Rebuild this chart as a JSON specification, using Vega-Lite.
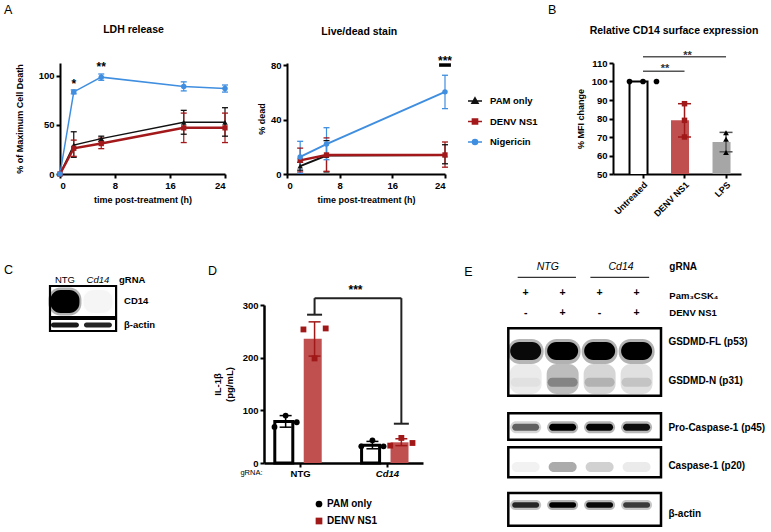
{
"$schema":"https://vega.github.io/schema/vega-lite/v6.json",
"background":"white",
"padding":{"left":3,"top":3,"right":0,"bottom":0},
"config":{
 "font":"Liberation Sans",
 "view":{"stroke":null},
 "axis":{"grid":false,"domainColor":"black","domainWidth":2,"tickColor":"black","tickWidth":2,"tickSize":4,"labelColor":"black","labelFontSize":9.5,"labelFontWeight":"bold","titleColor":"black","titleFontSize":9,"titleFontWeight":"bold","labelPadding":2},
 "title":{"fontSize":10.5,"fontWeight":"bold","color":"black","anchor":"middle"},
 "legend":{"labelColor":"black","labelFontWeight":"bold","labelFontSize":9.5,"padding":0},
 "text":{"color":"black"}
},
"datasets":{
 "ldh":[
  {"series":"PAM only","t":0,"mean":0},
  {"series":"PAM only","t":2,"mean":29.4,"lo":17,"hi":43},
  {"series":"PAM only","t":6,"mean":36,"lo":33.2,"hi":38.5},
  {"series":"PAM only","t":18,"mean":52.6,"lo":40.5,"hi":64.8},
  {"series":"PAM only","t":24,"mean":52.6,"lo":38.5,"hi":67.5},
  {"series":"DENV NS1","t":0,"mean":0},
  {"series":"DENV NS1","t":2,"mean":26.2,"lo":18,"hi":34.5},
  {"series":"DENV NS1","t":6,"mean":31,"lo":25.8,"hi":36.5},
  {"series":"DENV NS1","t":18,"mean":47,"lo":32,"hi":62},
  {"series":"DENV NS1","t":24,"mean":47,"lo":32,"hi":62},
  {"series":"Nigericin","t":0,"mean":0},
  {"series":"Nigericin","t":2,"mean":83.6,"lo":81.6,"hi":85.6},
  {"series":"Nigericin","t":6,"mean":98.6,"lo":95.4,"hi":101.8},
  {"series":"Nigericin","t":18,"mean":89.2,"lo":84.6,"hi":93.8},
  {"series":"Nigericin","t":24,"mean":87,"lo":83.4,"hi":90.6}
 ],
 "livedead":[
  {"series":"PAM only","t":2,"mean":5.8,"lo":2.8,"hi":8.6},
  {"series":"PAM only","t":6,"mean":13.5,"lo":1.5,"hi":24.5},
  {"series":"PAM only","t":24,"mean":14,"lo":7.5,"hi":21.5},
  {"series":"DENV NS1","t":2,"mean":10,"lo":1.5,"hi":19},
  {"series":"DENV NS1","t":6,"mean":14,"lo":2,"hi":26.5},
  {"series":"DENV NS1","t":24,"mean":14,"lo":5,"hi":23.5},
  {"series":"Nigericin","t":2,"mean":12.5,"lo":0.5,"hi":24},
  {"series":"Nigericin","t":6,"mean":22,"lo":10.5,"hi":34},
  {"series":"Nigericin","t":24,"mean":60.3,"lo":48,"hi":72.5}
 ],
 "cd14bars":[
  {"condition":"Untreated","mean":100},
  {"condition":"DENV NS1","mean":79,"lo":70,"hi":88},
  {"condition":"LPS","mean":67.3,"lo":62,"hi":72.5}
 ],
 "cd14pts":[
  {"condition":"Untreated","rep":1,"value":100},
  {"condition":"Untreated","rep":2,"value":100},
  {"condition":"Untreated","rep":3,"value":100},
  {"condition":"DENV NS1","rep":1,"value":88},
  {"condition":"DENV NS1","rep":2,"value":79},
  {"condition":"DENV NS1","rep":3,"value":70},
  {"condition":"LPS","rep":1,"value":72.3},
  {"condition":"LPS","rep":2,"value":68.8},
  {"condition":"LPS","rep":3,"value":61.6}
 ],
 "il1bbars":[
  {"bar":"NTG|PAM","gRNA":"NTG","treatment":"PAM only","mean":79,"lo":68,"hi":90},
  {"bar":"NTG|DENV","gRNA":"NTG","treatment":"DENV NS1","mean":236,"lo":203,"hi":268},
  {"bar":"Cd14|PAM","gRNA":"Cd14","treatment":"PAM only","mean":33.6,"lo":27,"hi":41},
  {"bar":"Cd14|DENV","gRNA":"Cd14","treatment":"DENV NS1","mean":39.3,"lo":33,"hi":46}
 ],
 "il1bpts":[
  {"bar":"NTG|PAM","treatment":"PAM only","rep":1,"value":68.5},
  {"bar":"NTG|PAM","treatment":"PAM only","rep":2,"value":90},
  {"bar":"NTG|PAM","treatment":"PAM only","rep":3,"value":77.4},
  {"bar":"NTG|DENV","treatment":"DENV NS1","rep":1,"value":253.6},
  {"bar":"NTG|DENV","treatment":"DENV NS1","rep":2,"value":198.5},
  {"bar":"NTG|DENV","treatment":"DENV NS1","rep":3,"value":255.5},
  {"bar":"Cd14|PAM","treatment":"PAM only","rep":1,"value":31.7},
  {"bar":"Cd14|PAM","treatment":"PAM only","rep":2,"value":43},
  {"bar":"Cd14|PAM","treatment":"PAM only","rep":3,"value":31.7},
  {"bar":"Cd14|DENV","treatment":"DENV NS1","rep":1,"value":33},
  {"bar":"Cd14|DENV","treatment":"DENV NS1","rep":2,"value":47.6},
  {"bar":"Cd14|DENV","treatment":"DENV NS1","rep":3,"value":38}
 ],
 "blotC":[
  {"band":"CD14","lane":1,"intensity":1},
  {"band":"CD14","lane":2,"intensity":0.03},
  {"band":"beta-actin","lane":1,"intensity":0.9},
  {"band":"beta-actin","lane":2,"intensity":0.85}
 ],
 "blotE":[
  {"band":"GSDMD-FL","lane":1,"intensity":0.95},
  {"band":"GSDMD-FL","lane":2,"intensity":1},
  {"band":"GSDMD-FL","lane":3,"intensity":1},
  {"band":"GSDMD-FL","lane":4,"intensity":1},
  {"band":"GSDMD smear","lane":1,"intensity":0.08},
  {"band":"GSDMD smear","lane":2,"intensity":0.26},
  {"band":"GSDMD smear","lane":3,"intensity":0.16},
  {"band":"GSDMD smear","lane":4,"intensity":0.12},
  {"band":"GSDMD-N","lane":1,"intensity":0.04},
  {"band":"GSDMD-N","lane":2,"intensity":0.3},
  {"band":"GSDMD-N","lane":3,"intensity":0.17},
  {"band":"GSDMD-N","lane":4,"intensity":0.12},
  {"band":"Pro-Caspase-1","lane":1,"intensity":0.55},
  {"band":"Pro-Caspase-1","lane":2,"intensity":1},
  {"band":"Pro-Caspase-1","lane":3,"intensity":0.97},
  {"band":"Pro-Caspase-1","lane":4,"intensity":0.93},
  {"band":"Caspase-1","lane":1,"intensity":0.05},
  {"band":"Caspase-1","lane":2,"intensity":0.33},
  {"band":"Caspase-1","lane":3,"intensity":0.18},
  {"band":"Caspase-1","lane":4,"intensity":0.08},
  {"band":"beta-actin","lane":1,"intensity":0.8},
  {"band":"beta-actin","lane":2,"intensity":1},
  {"band":"beta-actin","lane":3,"intensity":0.95},
  {"band":"beta-actin","lane":4,"intensity":0.7}
 ],
 "lanesE":[
  {"lane":1,"pam":"+","ns1":"-"},
  {"lane":2,"pam":"+","ns1":"+"},
  {"lane":3,"pam":"+","ns1":"-"},
  {"lane":4,"pam":"+","ns1":"+"}
 ]
},
"spacing":43,
"resolve":{"scale":{"color":"independent","fill":"independent","stroke":"independent","shape":"independent","opacity":"independent","fillOpacity":"independent","xOffset":"independent","size":"independent","strokeWidth":"independent"}},
"vconcat":[
{
"hconcat":[
 {
  "width":165,"height":111,
  "data":{"name":"ldh"},
  "layer":[
   {"mark":{"type":"rule","strokeWidth":1.2},"encoding":{"x":{"field":"t","type":"quantitative","scale":{"domain":[0,24],"nice":false},"axis":{"values":[0,4,8,12,16,20,24],"title":"time post-treatment (h)","titlePadding":6}},"y":{"field":"lo","type":"quantitative","title":"% of Maximum Cell Death","scale":{"domain":[0,113],"nice":false},"axis":{"values":[0,50,100],"titlePadding":14}},"y2":{"field":"hi"},"stroke":{"field":"series","type":"nominal","scale":{"domain":["PAM only","DENV NS1","Nigericin"],"range":["#111111","#a3191b","#3f8ee0"]},"legend":null}}},
   {"mark":{"type":"tick","orient":"horizontal","size":6,"thickness":1.3,"opacity":1},"encoding":{"x":{"field":"t","type":"quantitative","title":"time post-treatment (h)"},"y":{"field":"lo","type":"quantitative","title":"% of Maximum Cell Death"},"fill":{"field":"series","type":"nominal","scale":{"domain":["PAM only","DENV NS1","Nigericin"],"range":["#111111","#a3191b","#3f8ee0"]},"legend":null}}},
   {"mark":{"type":"tick","orient":"horizontal","size":6,"thickness":1.3,"opacity":1},"encoding":{"x":{"field":"t","type":"quantitative","title":"time post-treatment (h)"},"y":{"field":"hi","type":"quantitative","title":"% of Maximum Cell Death"},"fill":{"field":"series","type":"nominal","scale":{"domain":["PAM only","DENV NS1","Nigericin"],"range":["#111111","#a3191b","#3f8ee0"]},"legend":null}}},
   {"transform":[{"filter":"datum.series!='DENV NS1'"}],"mark":{"type":"line","strokeWidth":1.5},"encoding":{"x":{"field":"t","type":"quantitative","title":"time post-treatment (h)"},"y":{"field":"mean","type":"quantitative","title":"% of Maximum Cell Death"},"stroke":{"field":"series","type":"nominal","scale":{"domain":["PAM only","DENV NS1","Nigericin"],"range":["#111111","#a3191b","#3f8ee0"]},"legend":null}}},
   {"transform":[{"filter":"datum.series=='DENV NS1'"}],"mark":{"type":"line","strokeWidth":2.5},"encoding":{"x":{"field":"t","type":"quantitative","title":"time post-treatment (h)"},"y":{"field":"mean","type":"quantitative","title":"% of Maximum Cell Death"},"stroke":{"field":"series","type":"nominal","scale":{"domain":["PAM only","DENV NS1","Nigericin"],"range":["#111111","#a3191b","#3f8ee0"]},"legend":null}}},
   {"transform":[{"filter":"datum.series=='PAM only'"}],"mark":{"type":"point","shape":"triangle-up","filled":true,"size":30,"opacity":1},"encoding":{"x":{"field":"t","type":"quantitative","title":"time post-treatment (h)"},"y":{"field":"mean","type":"quantitative","title":"% of Maximum Cell Death"},"fill":{"field":"series","type":"nominal","scale":{"domain":["PAM only","DENV NS1","Nigericin"],"range":["#111111","#a3191b","#3f8ee0"]},"legend":null}}},
   {"transform":[{"filter":"datum.series=='DENV NS1'"}],"mark":{"type":"point","shape":"square","filled":true,"size":28,"opacity":1},"encoding":{"x":{"field":"t","type":"quantitative","title":"time post-treatment (h)"},"y":{"field":"mean","type":"quantitative","title":"% of Maximum Cell Death"},"fill":{"field":"series","type":"nominal","scale":{"domain":["PAM only","DENV NS1","Nigericin"],"range":["#111111","#a3191b","#3f8ee0"]},"legend":null}}},
   {"transform":[{"filter":"datum.series=='Nigericin'"}],"mark":{"type":"point","shape":"circle","filled":true,"size":30,"opacity":1},"encoding":{"x":{"field":"t","type":"quantitative","title":"time post-treatment (h)"},"y":{"field":"mean","type":"quantitative","title":"% of Maximum Cell Death"},"fill":{"field":"series","type":"nominal","scale":{"domain":["PAM only","DENV NS1","Nigericin"],"range":["#111111","#a3191b","#3f8ee0"]},"legend":null}}},
   {"data":{"values":[{}]},"mark":{"type":"text","fontSize":12,"fontWeight":"bold","baseline":"alphabetic"},"encoding":{"x":{"datum":2},"y":{"datum":87.5},"text":{"value":"*"}}},
   {"data":{"values":[{}]},"mark":{"type":"text","fontSize":12,"fontWeight":"bold","baseline":"alphabetic"},"encoding":{"x":{"datum":6},"y":{"datum":104.8},"text":{"value":"**"}}},
   {"data":{"values":[{}]},"mark":{"type":"text","fontSize":10.5,"fontWeight":"bold","baseline":"middle"},"encoding":{"x":{"datum":10.69},"y":{"datum":146.6},"text":{"value":"LDH release"}}},
   {"data":{"values":[{}]},"mark":{"type":"text","fontSize":12.5,"align":"left","baseline":"top"},"encoding":{"x":{"datum":-8.15},"y":{"datum":173.1},"text":{"value":"A"}}}
  ]
 },
 {
  "width":158,"height":111,
  "data":{"name":"livedead"},
  "layer":[
   {"mark":{"type":"rule","strokeWidth":1.2},"encoding":{"x":{"field":"t","type":"quantitative","scale":{"domain":[0,24],"nice":false},"axis":{"values":[0,4,8,12,16,20,24],"title":"time post-treatment (h)","titlePadding":6}},"y":{"field":"lo","type":"quantitative","title":"% dead","scale":{"domain":[0,81.5],"nice":false},"axis":{"values":[0,20,40,60,80],"titlePadding":4}},"y2":{"field":"hi"},"stroke":{"field":"series","type":"nominal","scale":{"domain":["PAM only","DENV NS1","Nigericin"],"range":["#111111","#a3191b","#3f8ee0"]}}}},
   {"mark":{"type":"tick","orient":"horizontal","size":6,"thickness":1.3,"opacity":1},"encoding":{"x":{"field":"t","type":"quantitative","title":"time post-treatment (h)"},"y":{"field":"lo","type":"quantitative","title":"% dead"},"fill":{"field":"series","type":"nominal","scale":{"domain":["PAM only","DENV NS1","Nigericin"],"range":["#111111","#a3191b","#3f8ee0"]}}}},
   {"mark":{"type":"tick","orient":"horizontal","size":6,"thickness":1.3,"opacity":1},"encoding":{"x":{"field":"t","type":"quantitative","title":"time post-treatment (h)"},"y":{"field":"hi","type":"quantitative","title":"% dead"},"fill":{"field":"series","type":"nominal","scale":{"domain":["PAM only","DENV NS1","Nigericin"],"range":["#111111","#a3191b","#3f8ee0"]}}}},
   {"transform":[{"filter":"datum.series!='DENV NS1'"}],"mark":{"type":"line","strokeWidth":2},"encoding":{"x":{"field":"t","type":"quantitative","title":"time post-treatment (h)"},"y":{"field":"mean","type":"quantitative","title":"% dead"},"stroke":{"field":"series","type":"nominal","scale":{"domain":["PAM only","DENV NS1","Nigericin"],"range":["#111111","#a3191b","#3f8ee0"]}}}},
   {"transform":[{"filter":"datum.series=='DENV NS1'"}],"mark":{"type":"line","strokeWidth":2.5},"encoding":{"x":{"field":"t","type":"quantitative","title":"time post-treatment (h)"},"y":{"field":"mean","type":"quantitative","title":"% dead"},"stroke":{"field":"series","type":"nominal","scale":{"domain":["PAM only","DENV NS1","Nigericin"],"range":["#111111","#a3191b","#3f8ee0"]}}}},
   {"transform":[{"filter":"datum.series=='PAM only'"}],"mark":{"type":"point","shape":"triangle-up","filled":true,"size":30,"opacity":1},"encoding":{"x":{"field":"t","type":"quantitative","title":"time post-treatment (h)"},"y":{"field":"mean","type":"quantitative","title":"% dead"},"fill":{"field":"series","type":"nominal","scale":{"domain":["PAM only","DENV NS1","Nigericin"],"range":["#111111","#a3191b","#3f8ee0"]}}}},
   {"transform":[{"filter":"datum.series=='DENV NS1'"}],"mark":{"type":"point","shape":"square","filled":true,"size":28,"opacity":1},"encoding":{"x":{"field":"t","type":"quantitative","title":"time post-treatment (h)"},"y":{"field":"mean","type":"quantitative","title":"% dead"},"fill":{"field":"series","type":"nominal","scale":{"domain":["PAM only","DENV NS1","Nigericin"],"range":["#111111","#a3191b","#3f8ee0"]}}}},
   {"transform":[{"filter":"datum.series=='Nigericin'"}],"mark":{"type":"point","shape":"circle","filled":true,"size":30,"opacity":1},"encoding":{"x":{"field":"t","type":"quantitative","title":"time post-treatment (h)"},"y":{"field":"mean","type":"quantitative","title":"% dead"},"fill":{"field":"series","type":"nominal","scale":{"domain":["PAM only","DENV NS1","Nigericin"],"range":["#111111","#a3191b","#3f8ee0"]}}}},
   {"transform":[{"filter":"false"}],"mark":{"type":"point","filled":true,"opacity":1},"encoding":{"x":{"field":"t","type":"quantitative","title":"time post-treatment (h)"},"y":{"field":"mean","type":"quantitative","title":"% dead"},
     "shape":{"field":"series","type":"nominal","scale":{"domain":["PAM only","DENV NS1","Nigericin"],"range":["M-1,0H1M0,-0.46L0.44,0.32L-0.44,0.32Z","M-1,0H1M-0.37,-0.37H0.37V0.37H-0.37Z","M-1,0H1M0.36,0A0.36,0.36,0,1,1,-0.36,0A0.36,0.36,0,1,1,0.36,0Z"]},"legend":{"orient":"none","legendX":180,"legendY":30,"title":null,"symbolSize":196,"symbolStrokeWidth":1.5,"labelFontSize":9.5,"labelFontWeight":"bold","labelOffset":7,"rowPadding":6.5,"padding":0}},
     "fill":{"field":"series","type":"nominal","scale":{"domain":["PAM only","DENV NS1","Nigericin"],"range":["#111111","#a3191b","#3f8ee0"]},"legend":{"orient":"none","legendX":180,"legendY":30,"title":null,"symbolSize":196,"symbolStrokeWidth":1.5,"labelFontSize":9.5,"labelFontWeight":"bold","labelOffset":7,"rowPadding":6.5,"padding":0}},
     "stroke":{"field":"series","type":"nominal","scale":{"domain":["PAM only","DENV NS1","Nigericin"],"range":["#111111","#a3191b","#3f8ee0"]},"legend":{"orient":"none","legendX":180,"legendY":30,"title":null,"symbolSize":196,"symbolStrokeWidth":1.5,"labelFontSize":9.5,"labelFontWeight":"bold","labelOffset":7,"rowPadding":6.5,"padding":0}}}},
   {"data":{"values":[{}]},"mark":{"type":"rule","strokeWidth":3.5,"color":"black"},"encoding":{"x":{"datum":23.1},"x2":{"datum":24.9},"y":{"datum":80}}},
   {"data":{"values":[{}]},"mark":{"type":"text","fontSize":12,"fontWeight":"bold","baseline":"alphabetic"},"encoding":{"x":{"datum":24},"y":{"datum":79.7},"text":{"value":"***"}}},
   {"data":{"values":[{}]},"mark":{"type":"text","fontSize":10.5,"fontWeight":"bold","baseline":"middle"},"encoding":{"x":{"datum":10.98},"y":{"datum":104.3},"text":{"value":"Live/dead stain"}}}
  ]
 },
 {
  "width":44,"height":111,
  "data":{"values":[{}]},
  "mark":{"type":"text","align":"left","baseline":"top","fontSize":12.5},
  "encoding":{"x":{"datum":0.932,"type":"quantitative","scale":{"domain":[0,1],"nice":false},"axis":null},"y":{"datum":1.532,"type":"quantitative","scale":{"domain":[0,1],"nice":false},"axis":null},"text":{"value":"B"}}
 },
 {
  "width":128,"height":111,
  "layer":[
   {"data":{"name":"cd14bars"},"mark":{"type":"bar","strokeWidth":2,"clip":true},"encoding":{
     "x":{"field":"condition","type":"nominal","sort":null,"scale":{"domain":["Untreated","DENV NS1","LPS"],"paddingInner":0.35,"paddingOuter":0.217,"align":0.917},"axis":{"labelAngle":-45,"title":null,"labelFontSize":9,"labelPadding":2}},
     "y":{"field":"mean","type":"quantitative","title":"% MFI change","scale":{"domain":[50,110],"nice":false,"zero":false},"axis":{"values":[50,60,70,80,90,100,110],"tickCount":7,"labelOverlap":false,"titlePadding":6}},
     "fill":{"condition":[{"test":"datum.condition=='Untreated'","value":"white"},{"test":"datum.condition=='DENV NS1'","value":"#c05050"}],"value":"#a6a6a6"},
     "stroke":{"condition":{"test":"datum.condition=='Untreated'","value":"black"},"value":"transparent"}}},
   {"data":{"name":"cd14bars"},"transform":[{"filter":"isValid(datum.lo)"}],"mark":{"type":"rule","strokeWidth":1.5},"encoding":{"x":{"field":"condition","type":"nominal","sort":null},"y":{"field":"lo","type":"quantitative","title":"% MFI change"},"y2":{"field":"hi"},"color":{"condition":{"test":"datum.condition=='DENV NS1'","value":"#a01818"},"value":"#555555"}}},
   {"data":{"name":"cd14bars"},"transform":[{"filter":"isValid(datum.lo)"}],"mark":{"type":"tick","orient":"horizontal","size":13,"thickness":1.5,"opacity":1},"encoding":{"x":{"field":"condition","type":"nominal","sort":null},"y":{"field":"lo","type":"quantitative","title":"% MFI change"},"color":{"condition":{"test":"datum.condition=='DENV NS1'","value":"#a01818"},"value":"#555555"}}},
   {"data":{"name":"cd14bars"},"transform":[{"filter":"isValid(datum.lo)"}],"mark":{"type":"tick","orient":"horizontal","size":13,"thickness":1.5,"opacity":1},"encoding":{"x":{"field":"condition","type":"nominal","sort":null},"y":{"field":"hi","type":"quantitative","title":"% MFI change"},"color":{"condition":{"test":"datum.condition=='DENV NS1'","value":"#a01818"},"value":"#555555"}}},
   {"data":{"name":"cd14pts"},"transform":[{"filter":"datum.condition=='Untreated'"}],"mark":{"type":"point","shape":"circle","filled":true,"size":32,"color":"black","opacity":1},"encoding":{"x":{"field":"condition","type":"nominal","sort":null},"xOffset":{"field":"rep","type":"nominal","scale":{"paddingOuter":0}},"y":{"field":"value","type":"quantitative","title":"% MFI change"}}},
   {"data":{"name":"cd14pts"},"transform":[{"filter":"datum.condition=='DENV NS1'"}],"mark":{"type":"point","shape":"square","filled":true,"size":30,"color":"#a01818","opacity":1},"encoding":{"x":{"field":"condition","type":"nominal","sort":null},"y":{"field":"value","type":"quantitative","title":"% MFI change"}}},
   {"data":{"name":"cd14pts"},"transform":[{"filter":"datum.condition=='LPS'"}],"mark":{"type":"point","shape":"triangle-up","filled":true,"size":34,"color":"black","opacity":1},"encoding":{"x":{"field":"condition","type":"nominal","sort":null},"y":{"field":"value","type":"quantitative","title":"% MFI change"}}},
   {"data":{"values":[{}]},"mark":{"type":"rule","color":"#555555","strokeWidth":1.5},"encoding":{"x":{"datum":"Untreated","type":"nominal"},"x2":{"datum":"LPS"},"y":{"datum":113.4}}},
   {"data":{"values":[{}]},"mark":{"type":"rule","color":"#555555","strokeWidth":1.5},"encoding":{"x":{"datum":"Untreated","type":"nominal"},"x2":{"datum":"DENV NS1"},"y":{"datum":105.5}}},
   {"data":{"values":[{}]},"mark":{"type":"text","fontSize":11,"fontWeight":"bold","baseline":"alphabetic","dx":3,"color":"#333333"},"encoding":{"x":{"datum":"DENV NS1","type":"nominal"},"y":{"datum":112.2},"text":{"value":"**"}}},
   {"data":{"values":[{}]},"mark":{"type":"text","fontSize":11,"fontWeight":"bold","baseline":"alphabetic","dx":22,"color":"#333333"},"encoding":{"x":{"datum":"Untreated","type":"nominal"},"y":{"datum":105},"text":{"value":"**"}}},
   {"data":{"values":[{}]},"mark":{"type":"text","fontSize":10.5,"fontWeight":"bold","baseline":"middle","dx":-10.5},"encoding":{"x":{"datum":"DENV NS1","type":"nominal"},"y":{"datum":127.3},"text":{"value":"Relative CD14 surface expression"}}}
  ]
 }
],
"spacing":62,"bounds":"flush",
"resolve":{"scale":{"color":"independent","fill":"independent","stroke":"independent","shape":"independent","opacity":"independent","fillOpacity":"independent","xOffset":"independent","size":"independent","strokeWidth":"independent"}}
},
{
"hconcat":[
 {
  "width":142,"height":26,
  "layer":[
   {"data":{"values":[{}]},"mark":{"type":"rect","fill":"white","stroke":"black","strokeWidth":2.2},"encoding":{"x":{"datum":0.547,"type":"quantitative","scale":{"domain":[0.85,5.153],"nice":false,"zero":false},"axis":null},"x2":{"datum":2.55},"y":{"datum":-1.9,"type":"quantitative","scale":{"domain":[0,2.6],"reverse":true,"nice":false,"zero":false},"axis":null},"y2":{"datum":1.2}}},
   {"data":{"values":[{}]},"mark":{"type":"rect","fill":"white","stroke":"black","strokeWidth":2.2},"encoding":{"x":{"datum":0.547},"x2":{"datum":2.55},"y":{"datum":1.4},"y2":{"datum":2.6}}},
   {"data":{"name":"blotC"},"transform":[{"filter":"datum.band=='CD14'"}],"mark":{"type":"tick","orient":"horizontal","size":33,"thickness":28,"cornerRadius":12,"color":"black","opacity":1},"encoding":{"x":{"field":"lane","type":"quantitative"},"y":{"datum":-0.35},"fillOpacity":{"field":"intensity","type":"quantitative","scale":{"domain":[0,1],"range":[0,0.3]},"legend":null}}},
   {"data":{"name":"blotC"},"transform":[{"filter":"datum.band=='CD14'"}],"mark":{"type":"tick","orient":"horizontal","size":29,"thickness":23,"cornerRadius":10,"color":"black"},"encoding":{"x":{"field":"lane","type":"quantitative"},"y":{"datum":-0.35},"opacity":{"field":"intensity","type":"quantitative","scale":null}}},
   {"data":{"name":"blotC"},"transform":[{"filter":"datum.band=='beta-actin'"}],"mark":{"type":"tick","orient":"horizontal","size":28,"thickness":5,"cornerRadius":2.5,"color":"black"},"encoding":{"x":{"field":"lane","type":"quantitative"},"y":{"datum":2.0},"opacity":{"field":"intensity","type":"quantitative","scale":null}}},
   {"data":{"values":[{}]},"mark":{"type":"text","fontSize":12.5,"align":"left","baseline":"top"},"encoding":{"x":{"datum":-0.847},"y":{"datum":-4.1},"text":{"value":"C"}}},
   {"data":{"values":[{}]},"mark":{"type":"text","fontSize":9.5},"encoding":{"x":{"datum":1},"y":{"datum":-2.5},"text":{"value":"NTG"}}},
   {"data":{"values":[{}]},"mark":{"type":"text","fontSize":9.5,"fontStyle":"italic"},"encoding":{"x":{"datum":2},"y":{"datum":-2.5},"text":{"value":"Cd14"}}},
   {"data":{"values":[{}]},"mark":{"type":"text","fontSize":9.5,"fontWeight":"bold","align":"left"},"encoding":{"x":{"datum":2.64},"y":{"datum":-2.5},"text":{"value":"gRNA"}}},
   {"data":{"values":[{}]},"mark":{"type":"text","fontSize":9.5,"fontWeight":"bold","align":"left"},"encoding":{"x":{"datum":2.79},"y":{"datum":-0.4},"text":{"value":"CD14"}}},
   {"data":{"values":[{}]},"mark":{"type":"text","fontSize":9.5,"fontWeight":"bold","align":"left"},"encoding":{"x":{"datum":2.79},"y":{"datum":2.0},"text":{"value":"β-actin"}}}
  ]
 },
 {
  "width":159,"height":158,
  "title":{"text":"D","anchor":"start","frame":"group","dx":-56,"offset":7,"fontSize":12.5,"fontWeight":"normal"},
  "layer":[
   {"data":{"name":"il1bbars"},"mark":{"type":"bar","width":{"band":0.75},"strokeWidth":3},"encoding":{
     "x":{"field":"bar","type":"nominal","sort":null,"scale":{"domain":["NTG|PAM","NTG|DENV","gap","Cd14|PAM","Cd14|DENV"],"paddingInner":0,"paddingOuter":0.248},"axis":{"values":["NTG|PAM","Cd14|PAM"],"tickOffset":14.5,"labelExpr":"datum.value=='NTG|PAM'?'NTG':'Cd14'","labelFontStyle":{"condition":{"test":"datum.value=='Cd14|PAM'","value":"italic"},"value":"normal"},"labelAngle":0,"labelPadding":1,"labelFontSize":9.5,"domainWidth":2.5,"title":"gRNA:","titleX":-13,"titleY":9,"titleAngle":0,"titleAlign":"center","titleBaseline":"middle","titleFontSize":7.5,"titleFontWeight":"normal"}},
     "y":{"field":"mean","type":"quantitative","title":["IL-1β","(pg/mL)"],"scale":{"domain":[0,300],"nice":false},"axis":{"values":[0,100,200,300],"titlePadding":8,"titleFontSize":9.5,"domainWidth":2.5}},
     "fill":{"condition":{"test":"datum.treatment=='PAM only'","value":"white"},"value":"#c05050"},
     "stroke":{"condition":{"test":"datum.treatment=='PAM only'","value":"black"},"value":"transparent"}}},
   {"data":{"name":"il1bbars"},"mark":{"type":"rule","strokeWidth":1.5},"encoding":{"x":{"field":"bar","type":"nominal","sort":null},"y":{"field":"lo","type":"quantitative","title":["IL-1β","(pg/mL)"]},"y2":{"field":"hi"},"color":{"condition":{"test":"datum.treatment=='PAM only'","value":"black"},"value":"#a01818"}}},
   {"data":{"name":"il1bbars"},"mark":{"type":"tick","orient":"horizontal","size":12,"thickness":1.5,"opacity":1},"encoding":{"x":{"field":"bar","type":"nominal","sort":null},"y":{"field":"lo","type":"quantitative","title":["IL-1β","(pg/mL)"]},"color":{"condition":{"test":"datum.treatment=='PAM only'","value":"black"},"value":"#a01818"}}},
   {"data":{"name":"il1bbars"},"mark":{"type":"tick","orient":"horizontal","size":12,"thickness":1.5,"opacity":1},"encoding":{"x":{"field":"bar","type":"nominal","sort":null},"y":{"field":"hi","type":"quantitative","title":["IL-1β","(pg/mL)"]},"color":{"condition":{"test":"datum.treatment=='PAM only'","value":"black"},"value":"#a01818"}}},
   {"data":{"name":"il1bpts"},"mark":{"type":"point","filled":true,"size":34,"opacity":1},"encoding":{
     "x":{"field":"bar","type":"nominal","sort":null},
     "xOffset":{"field":"rep","type":"nominal","scale":{"paddingOuter":0.3}},
     "y":{"field":"value","type":"quantitative","title":["IL-1β","(pg/mL)"]},
     "fill":{"field":"treatment","type":"nominal","scale":{"domain":["PAM only","DENV NS1"],"range":["black","#a01818"]},"legend":{"orient":"none","legendX":50,"legendY":194,"title":null,"symbolSize":45,"symbolStrokeWidth":0,"labelFontSize":10,"labelFontWeight":"bold","labelOffset":3,"rowPadding":7,"padding":0}},
     "shape":{"field":"treatment","type":"nominal","scale":{"domain":["PAM only","DENV NS1"],"range":["circle","square"]},"legend":{"orient":"none","legendX":50,"legendY":194,"title":null,"symbolSize":45,"symbolStrokeWidth":0,"labelFontSize":10,"labelFontWeight":"bold","labelOffset":3,"rowPadding":7,"padding":0}}}},
   {"data":{"values":[{}]},"mark":{"type":"rule","color":"#222222","strokeWidth":2},"encoding":{"x":{"datum":"NTG|DENV","type":"nominal"},"x2":{"datum":"Cd14|DENV"},"y":{"datum":313}}},
   {"data":{"values":[{}]},"mark":{"type":"rule","color":"#222222","strokeWidth":2},"encoding":{"x":{"datum":"NTG|DENV","type":"nominal"},"y":{"datum":281.6},"y2":{"datum":313}}},
   {"data":{"values":[{}]},"mark":{"type":"rule","color":"#222222","strokeWidth":2},"encoding":{"x":{"datum":"Cd14|DENV","type":"nominal"},"y":{"datum":74.6},"y2":{"datum":313}}},
   {"data":{"values":[{}]},"mark":{"type":"tick","orient":"horizontal","size":15,"thickness":2,"color":"#222222","opacity":1},"encoding":{"x":{"datum":"NTG|DENV","type":"nominal"},"y":{"datum":281.6}}},
   {"data":{"values":[{}]},"mark":{"type":"tick","orient":"horizontal","size":15,"thickness":2,"color":"#222222","opacity":1},"encoding":{"x":{"datum":"Cd14|DENV","type":"nominal"},"y":{"datum":74.6}}},
   {"data":{"values":[{}]},"mark":{"type":"text","fontSize":12,"fontWeight":"bold","baseline":"alphabetic","dx":12},"encoding":{"x":{"datum":"gap","type":"nominal"},"y":{"datum":320},"text":{"value":"***"}}}
  ]
 },
 {
  "width":176,"height":221,
  "layer":[
   {"data":{"values":[{}]},"mark":{"type":"rect","fill":"white","stroke":"black","strokeWidth":2.5},"encoding":{"x":{"datum":0.53,"type":"quantitative","scale":{"domain":[-0.1,4.66],"nice":false,"zero":false},"axis":null},"x2":{"datum":4.66},"y":{"datum":2.33,"type":"quantitative","scale":{"domain":[0,22.1],"reverse":true,"nice":false,"zero":false},"axis":null},"y2":{"datum":9.07}}},
   {"data":{"values":[{}]},"mark":{"type":"rect","fill":"white","stroke":"black","strokeWidth":2.5},"encoding":{"x":{"datum":0.53},"x2":{"datum":4.66},"y":{"datum":10.83},"y2":{"datum":13.47}}},
   {"data":{"values":[{}]},"mark":{"type":"rect","fill":"white","stroke":"black","strokeWidth":2.5},"encoding":{"x":{"datum":0.53},"x2":{"datum":4.66},"y":{"datum":14.23},"y2":{"datum":17.23}}},
   {"data":{"values":[{}]},"mark":{"type":"rect","fill":"white","stroke":"black","strokeWidth":2.5},"encoding":{"x":{"datum":0.53},"x2":{"datum":4.66},"y":{"datum":18.8},"y2":{"datum":22.07}}},
   {"data":{"name":"blotE"},"transform":[{"filter":"datum.band=='GSDMD smear'"}],"mark":{"type":"tick","orient":"horizontal","size":32,"thickness":30,"cornerRadius":10,"color":"black"},"encoding":{"x":{"field":"lane","type":"quantitative"},"y":{"datum":7.4},"opacity":{"field":"intensity","type":"quantitative","scale":null}}},
   {"data":{"name":"blotE"},"transform":[{"filter":"datum.band=='GSDMD-N'"}],"mark":{"type":"tick","orient":"horizontal","size":30,"thickness":9,"cornerRadius":4.5,"color":"black"},"encoding":{"x":{"field":"lane","type":"quantitative"},"y":{"datum":7.73},"opacity":{"field":"intensity","type":"quantitative","scale":null}}},
   {"data":{"name":"blotE"},"transform":[{"filter":"datum.band=='GSDMD-FL'"}],"mark":{"type":"tick","orient":"horizontal","size":36,"thickness":25,"cornerRadius":12,"color":"black","opacity":1},"encoding":{"x":{"field":"lane","type":"quantitative"},"y":{"datum":4.65},"fillOpacity":{"field":"intensity","type":"quantitative","scale":{"domain":[0,1],"range":[0,0.3]},"legend":null}}},
   {"data":{"name":"blotE"},"transform":[{"filter":"datum.band=='GSDMD-FL'"}],"mark":{"type":"tick","orient":"horizontal","size":31,"thickness":18,"cornerRadius":9,"color":"black"},"encoding":{"x":{"field":"lane","type":"quantitative"},"y":{"datum":4.6},"opacity":{"field":"intensity","type":"quantitative","scale":null}}},
   {"data":{"name":"blotE"},"transform":[{"filter":"datum.band=='Pro-Caspase-1'"}],"mark":{"type":"tick","orient":"horizontal","size":31,"thickness":12,"cornerRadius":6,"color":"black","opacity":1},"encoding":{"x":{"field":"lane","type":"quantitative"},"y":{"datum":12.23},"fillOpacity":{"field":"intensity","type":"quantitative","scale":{"domain":[0,1],"range":[0,0.3]},"legend":null}}},
   {"data":{"name":"blotE"},"transform":[{"filter":"datum.band=='Pro-Caspase-1'"}],"mark":{"type":"tick","orient":"horizontal","size":27,"thickness":7,"cornerRadius":3.5,"color":"black"},"encoding":{"x":{"field":"lane","type":"quantitative"},"y":{"datum":12.23},"opacity":{"field":"intensity","type":"quantitative","scale":null}}},
   {"data":{"name":"blotE"},"transform":[{"filter":"datum.band=='Caspase-1'"}],"mark":{"type":"tick","orient":"horizontal","size":28,"thickness":10,"cornerRadius":5,"color":"black"},"encoding":{"x":{"field":"lane","type":"quantitative"},"y":{"datum":16.2},"opacity":{"field":"intensity","type":"quantitative","scale":null}}},
   {"data":{"name":"blotE"},"transform":[{"filter":"datum.band=='beta-actin'"}],"mark":{"type":"tick","orient":"horizontal","size":31,"thickness":10,"cornerRadius":5,"color":"black","opacity":1},"encoding":{"x":{"field":"lane","type":"quantitative"},"y":{"datum":20},"fillOpacity":{"field":"intensity","type":"quantitative","scale":{"domain":[0,1],"range":[0,0.3]},"legend":null}}},
   {"data":{"name":"blotE"},"transform":[{"filter":"datum.band=='beta-actin'"}],"mark":{"type":"tick","orient":"horizontal","size":27,"thickness":5.5,"cornerRadius":2.7,"color":"black"},"encoding":{"x":{"field":"lane","type":"quantitative"},"y":{"datum":20},"opacity":{"field":"intensity","type":"quantitative","scale":null}}},
   {"data":{"values":[{}]},"mark":{"type":"text","fontSize":12.5,"align":"left","baseline":"top"},"encoding":{"x":{"datum":-0.66},"y":{"datum":-3.93},"text":{"value":"E"}}},
   {"data":{"values":[{}]},"mark":{"type":"text","fontSize":10.5,"fontStyle":"italic"},"encoding":{"x":{"datum":1.596},"y":{"datum":-3.8},"text":{"value":"NTG"}}},
   {"data":{"values":[{}]},"mark":{"type":"text","fontSize":10.5,"fontStyle":"italic"},"encoding":{"x":{"datum":3.58},"y":{"datum":-3.8},"text":{"value":"Cd14"}}},
   {"data":{"values":[{}]},"mark":{"type":"rule","color":"black","strokeWidth":1},"encoding":{"x":{"datum":0.784},"x2":{"datum":2.36},"y":{"datum":-2.77}}},
   {"data":{"values":[{}]},"mark":{"type":"rule","color":"black","strokeWidth":1},"encoding":{"x":{"datum":2.75},"x2":{"datum":4.34},"y":{"datum":-2.77}}},
   {"data":{"values":[{}]},"mark":{"type":"text","fontSize":10,"fontWeight":"bold","align":"left"},"encoding":{"x":{"datum":4.885},"y":{"datum":-3.8},"text":{"value":"gRNA"}}},
   {"data":{"name":"lanesE"},"mark":{"type":"text","fontSize":10.5,"fontWeight":"bold"},"encoding":{"x":{"field":"lane","type":"quantitative"},"y":{"datum":-1.2},"text":{"field":"pam"}}},
   {"data":{"name":"lanesE"},"mark":{"type":"text","fontSize":10.5,"fontWeight":"bold"},"encoding":{"x":{"field":"lane","type":"quantitative"},"y":{"datum":0.83},"text":{"field":"ns1"}}},
   {"data":{"values":[{}]},"mark":{"type":"text","fontSize":9.5,"fontWeight":"bold","align":"left"},"encoding":{"x":{"datum":4.885},"y":{"datum":-0.95},"text":{"value":"Pam₃CSK₄"}}},
   {"data":{"values":[{}]},"mark":{"type":"text","fontSize":9.5,"fontWeight":"bold","align":"left"},"encoding":{"x":{"datum":4.885},"y":{"datum":0.83},"text":{"value":"DENV NS1"}}},
   {"data":{"values":[{}]},"mark":{"type":"text","fontSize":10,"fontWeight":"bold","align":"left"},"encoding":{"x":{"datum":4.86},"y":{"datum":3.67},"text":{"value":"GSDMD-FL (p53)"}}},
   {"data":{"values":[{}]},"mark":{"type":"text","fontSize":10,"fontWeight":"bold","align":"left"},"encoding":{"x":{"datum":4.86},"y":{"datum":7.57},"text":{"value":"GSDMD-N (p31)"}}},
   {"data":{"values":[{}]},"mark":{"type":"text","fontSize":10,"fontWeight":"bold","align":"left"},"encoding":{"x":{"datum":4.86},"y":{"datum":12.33},"text":{"value":"Pro-Caspase-1 (p45)"}}},
   {"data":{"values":[{}]},"mark":{"type":"text","fontSize":10,"fontWeight":"bold","align":"left"},"encoding":{"x":{"datum":4.86},"y":{"datum":16.07},"text":{"value":"Caspase-1 (p20)"}}},
   {"data":{"values":[{}]},"mark":{"type":"text","fontSize":10,"fontWeight":"bold","align":"left"},"encoding":{"x":{"datum":4.86},"y":{"datum":20.9},"text":{"value":"β-actin"}}}
  ]
 }
],
"spacing":62,"bounds":"flush",
"resolve":{"scale":{"color":"independent","fill":"independent","stroke":"independent","shape":"independent","opacity":"independent","fillOpacity":"independent","xOffset":"independent","size":"independent","strokeWidth":"independent"}}
}
]
}
